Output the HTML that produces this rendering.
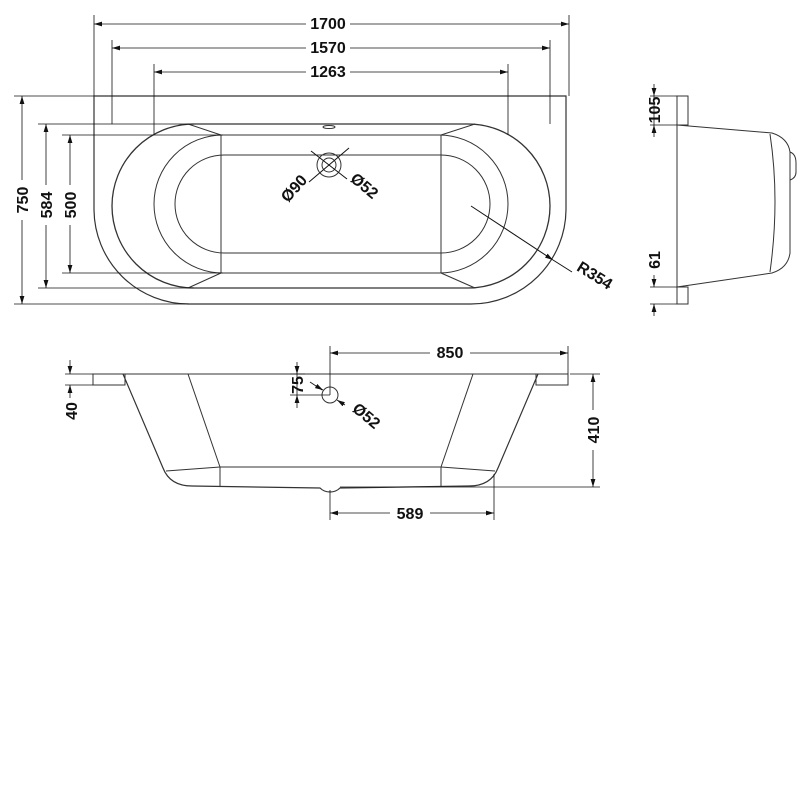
<!DOCTYPE html>
<html><head><meta charset="utf-8"><style>
html,body{margin:0;padding:0;background:#fff;}
svg{display:block;}
text{font-family:"Liberation Sans",sans-serif;font-weight:bold;font-size:16px;fill:#111;}
</style></head><body>
<svg width="800" height="800" viewBox="0 0 800 800" xmlns="http://www.w3.org/2000/svg">
<defs>
<marker id="a" viewBox="0 0 10 6" refX="10" refY="3" markerWidth="8" markerHeight="5" orient="auto-start-reverse" markerUnits="userSpaceOnUse"><path d="M0,0 L10,3 L0,6 z" fill="#111"/></marker>
</defs>
<g fill="none" stroke="#333" stroke-width="1">
<!-- TOP VIEW -->
<path d="M94,96 L566,96 L566,210 A95,95 0 0 1 471,304 L189,304 A95,95 0 0 1 94,210 Z" stroke-width="1.2"/>
<path d="M194,124 L468,124 A82,82 0 0 1 468,288 L194,288 A82,82 0 0 1 194,124 Z" stroke-width="1.3"/>
<path d="M223,135 L439,135 A69,69 0 0 1 439,273 L223,273 A69,69 0 0 1 223,135 Z"/>
<path d="M224,155 L441,155 A49,49 0 0 1 441,253 L224,253 A49,49 0 0 1 224,155 Z"/>
<line x1="221" y1="135" x2="221" y2="273"/><line x1="441" y1="135" x2="441" y2="273"/>
<line x1="188" y1="124" x2="221" y2="135"/><line x1="475" y1="124" x2="441" y2="135"/>
<line x1="188" y1="288" x2="221" y2="273"/><line x1="475" y1="288" x2="441" y2="273"/>
<ellipse cx="329" cy="127" rx="6" ry="1.5"/>
<circle cx="329" cy="165" r="12"/><circle cx="329" cy="165" r="7"/>
<line x1="311" y1="151" x2="347" y2="179" stroke="#111"/>
<line x1="349" y1="148" x2="309" y2="182" stroke="#111"/>
<line x1="471" y1="206" x2="553" y2="260" stroke="#111" marker-end="url(#a)"/>
<line x1="553" y1="260" x2="572" y2="272" stroke="#111"/>
<!-- top dims -->
<g stroke="#111" stroke-width="0.8">
<line x1="94" y1="15" x2="94" y2="96"/><line x1="569" y1="15" x2="569" y2="96"/>
<line x1="112" y1="40" x2="112" y2="124"/><line x1="550" y1="40" x2="550" y2="124"/>
<line x1="154" y1="64" x2="154" y2="135"/><line x1="508" y1="64" x2="508" y2="135"/>
<line x1="94" y1="24" x2="306" y2="24" marker-start="url(#a)"/><line x1="350" y1="24" x2="569" y2="24" marker-end="url(#a)"/>
<line x1="112" y1="48" x2="306" y2="48" marker-start="url(#a)"/><line x1="350" y1="48" x2="550" y2="48" marker-end="url(#a)"/>
<line x1="154" y1="72" x2="306" y2="72" marker-start="url(#a)"/><line x1="350" y1="72" x2="508" y2="72" marker-end="url(#a)"/>
<line x1="14" y1="96" x2="94" y2="96"/><line x1="14" y1="304" x2="189" y2="304"/>
<line x1="38" y1="124" x2="194" y2="124"/><line x1="38" y1="288" x2="194" y2="288"/>
<line x1="62" y1="135" x2="223" y2="135"/><line x1="62" y1="273" x2="223" y2="273"/>
<line x1="22" y1="96" x2="22" y2="180" marker-start="url(#a)"/><line x1="22" y1="220" x2="22" y2="304" marker-end="url(#a)"/>
<line x1="46" y1="124" x2="46" y2="185" marker-start="url(#a)"/><line x1="46" y1="225" x2="46" y2="288" marker-end="url(#a)"/>
<line x1="70" y1="135" x2="70" y2="185" marker-start="url(#a)"/><line x1="70" y1="225" x2="70" y2="273" marker-end="url(#a)"/>
</g>
<!-- SIDE VIEW -->
<rect x="677" y="96" width="11" height="29"/>
<rect x="677" y="287" width="11" height="17"/>
<line x1="677" y1="125" x2="677" y2="287"/>
<path d="M677,125 L772,133 Q788,138 790,152 L790,253 Q788,268 772,273 L677,287"/>
<path d="M770,134 Q780,200 770,272"/>
<path d="M790,152 Q796,154 796,163 L796,172 Q796,178 790,180"/>
<g stroke="#111" stroke-width="0.8">
<line x1="650" y1="96" x2="677" y2="96"/><line x1="650" y1="125" x2="677" y2="125"/>
<line x1="650" y1="287" x2="677" y2="287"/><line x1="650" y1="304" x2="677" y2="304"/>
<line x1="654" y1="84" x2="654" y2="96" marker-end="url(#a)"/><line x1="654" y1="137" x2="654" y2="125" marker-end="url(#a)"/>
<line x1="654" y1="275" x2="654" y2="287" marker-end="url(#a)"/><line x1="654" y1="316" x2="654" y2="304" marker-end="url(#a)"/>
<line x1="654" y1="96" x2="654" y2="125"/>
</g>
<!-- FRONT VIEW -->
<rect x="93" y="374" width="32" height="11"/>
<rect x="536" y="374" width="32" height="11"/>
<line x1="93" y1="374" x2="568" y2="374"/>
<path d="M123,374 L163,468 Q170,486 192,486 L320,488 Q324,492 330,492 Q336,492 340,488 L469,486 Q491,486 498,468 L538,374" stroke-width="1.2"/>
<line x1="188" y1="374" x2="220" y2="467"/><line x1="473" y1="374" x2="441" y2="467"/>
<path d="M166,471 L220,467 L441,467 L495,471"/>
<line x1="220" y1="467" x2="220" y2="487"/><line x1="441" y1="467" x2="441" y2="487"/>
<circle cx="330" cy="395" r="8"/>
<g stroke="#111" stroke-width="0.8">
<line x1="330" y1="346" x2="330" y2="395"/>
<line x1="330" y1="353" x2="430" y2="353" marker-start="url(#a)"/><line x1="470" y1="353" x2="568" y2="353" marker-end="url(#a)"/>
<line x1="568" y1="346" x2="568" y2="374"/>
<line x1="310" y1="382" x2="322" y2="390" /><line x1="316" y1="386" x2="323" y2="390" marker-end="url(#a)"/>
<line x1="345" y1="405" x2="337" y2="400" marker-end="url(#a)"/>
<line x1="290" y1="374" x2="305" y2="374"/><line x1="290" y1="395" x2="330" y2="395"/>
<line x1="297" y1="362" x2="297" y2="374" marker-end="url(#a)"/><line x1="297" y1="408" x2="297" y2="395" marker-end="url(#a)"/>
<line x1="297" y1="374" x2="297" y2="395"/>
<line x1="65" y1="374" x2="93" y2="374"/><line x1="65" y1="385" x2="93" y2="385"/>
<line x1="70" y1="360" x2="70" y2="374" marker-end="url(#a)"/><line x1="70" y1="398" x2="70" y2="385" marker-end="url(#a)"/>
<line x1="570" y1="374" x2="600" y2="374"/><line x1="340" y1="487" x2="600" y2="487"/>
<line x1="593" y1="374" x2="593" y2="410" marker-start="url(#a)"/><line x1="593" y1="450" x2="593" y2="487" marker-end="url(#a)"/>
<line x1="330" y1="490" x2="330" y2="520"/><line x1="494" y1="474" x2="494" y2="520"/>
<line x1="330" y1="513" x2="390" y2="513" marker-start="url(#a)"/><line x1="430" y1="513" x2="494" y2="513" marker-end="url(#a)"/>
</g>
</g>
<!-- labels -->
<text x="328" y="29" text-anchor="middle">1700</text>
<text x="328" y="53" text-anchor="middle">1570</text>
<text x="328" y="77" text-anchor="middle">1263</text>
<text transform="translate(28,200) rotate(-90)" text-anchor="middle">750</text>
<text transform="translate(52,205) rotate(-90)" text-anchor="middle">584</text>
<text transform="translate(76,205) rotate(-90)" text-anchor="middle">500</text>
<text transform="translate(298,192) rotate(-48)" text-anchor="middle">Ø90</text>
<text transform="translate(361,190) rotate(40)" text-anchor="middle">Ø52</text>
<text transform="translate(592,280) rotate(32)" text-anchor="middle">R354</text>
<text transform="translate(660,110) rotate(-90)" text-anchor="middle">105</text>
<text transform="translate(660,260) rotate(-90)" text-anchor="middle">61</text>
<text x="450" y="358" text-anchor="middle">850</text>
<text transform="translate(303,385) rotate(-90)" text-anchor="middle">75</text>
<text transform="translate(363,420) rotate(40)" text-anchor="middle">Ø52</text>
<text transform="translate(77,411) rotate(-90)" text-anchor="middle">40</text>
<text transform="translate(599,430) rotate(-90)" text-anchor="middle">410</text>
<text x="410" y="519" text-anchor="middle">589</text>
</svg>
</body></html>
